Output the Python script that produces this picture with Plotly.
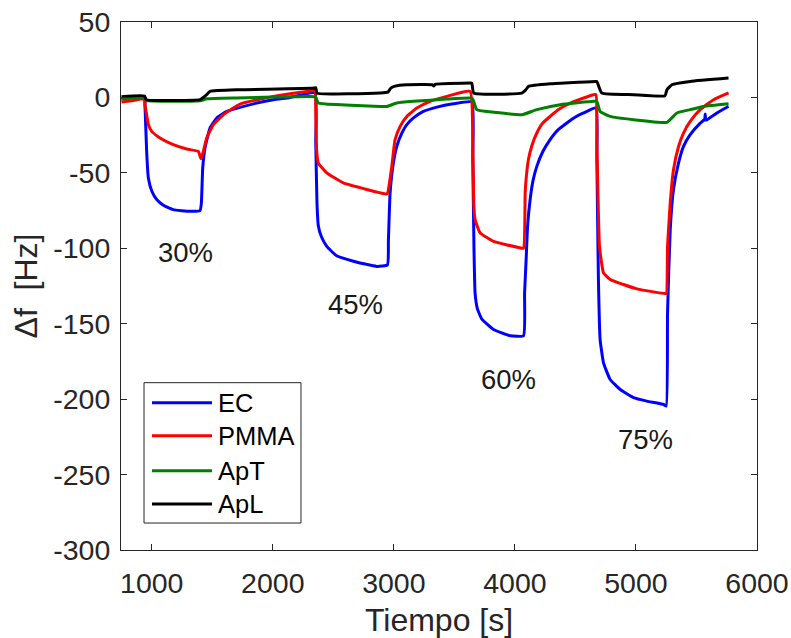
import plotly.graph_objects as go

# ---------------- data ----------------
t_ec = [750, 940, 944, 958, 972, 1000, 1041, 1096, 1178, 1316, 1399, 1410, 1421, 1440, 1481, 1537, 1620, 1729, 1867, 2005, 2143, 2347,
        2355, 2365, 2376, 2400, 2446, 2528, 2666, 2859, 2947, 2955, 2969, 2996, 3024, 3066, 3107, 3162, 3244, 3355, 3492, 3644,
        3652, 3662, 3671, 3690, 3727, 3823, 3961, 4071, 4080, 4093, 4105, 4126, 4150, 4181, 4230, 4291, 4350, 4429, 4500, 4567, 4670,
        4677, 4690, 4704, 4732, 4787, 4870, 4980, 5090, 5228, 5250, 5261, 5283, 5310, 5352, 5393, 5448, 5531, 5568, 5572, 5576, 5586, 5669, 5752, 5765]
v_ec = [-1, 0, -5, -35.8, -53.4, -62, -67.7, -71.5, -74.4, -75.5, -75, -70, -46.8, -33.5, -20.3, -13.6, -9.3, -6.6, -3.7, -1.5, 0, 2.9,
        -30, -70, -85, -92, -98.7, -105, -108.6, -112, -111, -95, -63.3, -43.4, -32.5, -23.6, -18, -13.6, -9.3, -6.4, -4.2, -3,
        -40, -100, -129.5, -140, -147, -153.8, -158, -158, -130, -107, -85, -67.7, -55, -45.7, -36, -28, -22, -17, -13, -10.3, -7,
        -40, -120.7, -160.5, -175.9, -187, -193.6, -199, -201.3, -203.5, -204.6, -142.8, -87.6, -61, -43.4, -32.5, -24.7, -17, -14.5, -11, -15, -14.8, -10.3, -6.5, -6]

t_pmma = [750, 850, 940, 944, 958, 972, 1000, 1068, 1178, 1289, 1385, 1407, 1426, 1454, 1509, 1591, 1729, 2005, 2280, 2347,
          2355, 2362, 2376, 2446, 2583, 2776, 2942, 2950, 2983, 3010, 3052, 3107, 3190, 3300, 3437, 3630,
          3652, 3660, 3671, 3713, 3823, 4043, 4071, 4085, 4095, 4112, 4140, 4181, 4230, 4291, 4360, 4457, 4649, 4670,
          4677, 4699, 4732, 4787, 4897, 5008, 5145, 5242, 5252, 5261, 5283, 5310, 5352, 5393, 5448, 5531, 5641, 5765]
v_pmma = [-3, -2, -1, -5, -11.5, -18, -22.5, -26.9, -31.3, -34.2, -35.8, -40.6, -35.8, -26.9, -18, -11.5, -4.4, 0.7, 4, 4.5,
          -10, -35, -43.5, -50, -56.7, -61, -64, -63, -45.7, -28, -19.2, -12.6, -7, -2.6, 0.7, 4,
          -30, -70, -81, -89.8, -95.4, -99.7, -100, -63, -52, -41, -32, -23.6, -17, -12.6, -8, -3.7, 1.8, 1.8,
          -30, -98.7, -116.3, -120.7, -124, -126.9, -128.9, -130, -130, -98.7, -70, -47.9, -32.5, -23.6, -15.9, -8.1, -1.5, 3]

t_apt = [750, 940, 955, 1400, 1454, 1700, 2347, 2355, 2376, 2600, 2886, 2942, 3024, 3162, 3437, 3630,
         3652, 3685, 3850, 4057, 4181, 4374, 4649, 4677, 4704, 4787, 4980, 5256, 5338, 5448, 5558, 5765]
v_apt = [-1, 0, -2, -2.2, -0.9, -0.3, 0.5, 0.3, -3.7, -5, -6, -6, -3.7, -2.6, -1.1, -0.4,
         -1, -8.1, -10, -11.5, -8.1, -4.8, -2.6, -2.6, -9.3, -12.6, -14.8, -16.5, -10.3, -8.1, -6, -4.2]

t_apl = [750, 940, 955, 1399, 1426, 1454, 1481, 1729, 2347, 2355, 2365, 2886, 2950, 2975, 3010, 3107, 3320, 3330, 3340,
         3630, 3644, 3660, 4057, 4090, 4112, 4291, 4663, 4677, 4718, 4980, 5240, 5256, 5297, 5448, 5765]
v_apl = [0.5, 1, -1.5, -1.5, 0, 1.8, 4, 5.1, 6.2, 6.5, 2.9, 3, 3.5, 6.2, 7.5, 8.4, 8.4, 7.5, 8.6,
         9.5, 9.5, 2.9, 2.9, 5, 7.3, 9.0, 10.6, 10.6, 2.9, 1.8, 1.1, 5.1, 8.4, 10.6, 12.8]

series_names = ["EC", "PMMA", "ApT", "ApL"]
series_colors = ["#0000FF", "#FF0000", "#008000", "#000000"]

label_text = ["30%", "45%", "60%", "75%"]
label_t = [1279, 2686, 3950, 5080]
label_v = [-103, -137, -187, -227]

x_ticks = [1000, 2000, 3000, 4000, 5000, 6000]
y_ticks = [-300, -250, -200, -150, -100, -50, 0, 50]

# ---------------- figure ----------------
FONT = "Liberation Sans, Arial, Helvetica, sans-serif"
AX = "#262626"

fig = go.Figure()
for t, v, name, col in zip([t_ec, t_pmma, t_apt, t_apl], [v_ec, v_pmma, v_apt, v_apl],
                           series_names, series_colors):
    assert len(t) == len(v)
    fig.add_trace(go.Scatter(x=t, y=v, mode="lines", name=name,
                             line=dict(color=col, width=3, shape="spline", smoothing=0.4),
                             showlegend=False))

for txt, tx, ty in zip(label_text, label_t, label_v):
    fig.add_annotation(x=tx, y=ty, xref="x", yref="y", text=txt, showarrow=False,
                       font=dict(family=FONT, size=27.5, color="#1a1a1a"))

# MATLAB-like legend box (paper coordinates)
fig.add_shape(type="rect", xref="paper", yref="paper", x0=0.0362, x1=0.283, y0=0.0511, y1=0.3169,
              line=dict(color=AX, width=1), fillcolor="white", layer="above")
row_y = [0.279, 0.2165, 0.1502, 0.0871]
for name, col, ry in zip(series_names, series_colors, row_y):
    fig.add_shape(type="line", xref="paper", yref="paper", x0=0.0487, x1=0.1431, y0=ry, y1=ry,
                  line=dict(color=col, width=3), layer="above")
    fig.add_annotation(x=0.1494, y=ry, xref="paper", yref="paper", text=name, showarrow=False,
                       xanchor="left", yanchor="middle",
                       font=dict(family=FONT, size=25.5, color="#000000"))

axis_common = dict(showline=True, linecolor=AX, linewidth=1, mirror="ticks", ticks="inside",
                   ticklen=6, tickcolor=AX, tickwidth=1, showgrid=False, zeroline=False,
                   automargin=False,
                   tickfont=dict(family=FONT, size=28.5, color=AX))

fig.update_xaxes(range=[746, 6000], tickvals=x_ticks, ticktext=[str(v) for v in x_ticks],
                 ticklabelstandoff=8,
                 title=dict(text="Tiempo [s]", font=dict(family=FONT, size=32, color=AX), standoff=10),
                 **axis_common)
fig.update_yaxes(range=[-300, 50], tickvals=y_ticks, ticktext=[str(v) for v in y_ticks],
                 ticklabelstandoff=4,
                 title=dict(text="\u0394f\u00a0 [Hz]", font=dict(family=FONT, size=32, color=AX), standoff=6),
                 **axis_common)

fig.update_layout(width=791, height=638, margin=dict(l=121, r=34, t=22, b=88),
                  plot_bgcolor="white", paper_bgcolor="white", showlegend=False)

fig.write_html("out.html")
